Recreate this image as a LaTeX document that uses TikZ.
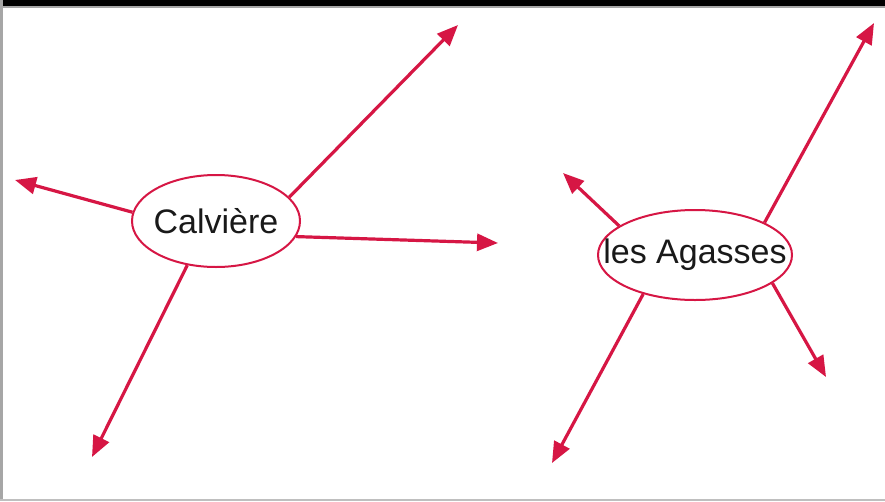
\documentclass[tikz,border=0pt]{standalone}
\usepackage{fontspec}
\setmainfont{Liberation Sans}
\usetikzlibrary{shapes.geometric,arrows.meta}
\definecolor{crim}{RGB}{214,22,68}
\definecolor{txt}{RGB}{25,25,25}
\tikzset{
  bubble/.style={ellipse, draw=crim, line width=2pt, fill=white, inner sep=0pt},
  lbl/.style={inner sep=0pt, text=txt, font=\fontsize{34}{36}\selectfont},
  arr/.style={draw=crim, line width=3.2pt, -{Triangle[length=21pt,width=17pt]}}
}
\begin{document}
\begin{tikzpicture}[x=1pt,y=-1pt]
\useasboundingbox (0,0) rectangle (885,501);
\fill[white] (0,0) rectangle (885,501);
\fill[black] (0,0) rectangle (885,6);
\fill[gray!70] (0,6) rectangle (885,7.5);
\fill[gray!70] (0,0) rectangle (2.5,501);
\fill[gray!50] (0,499) rectangle (885,501);

\node[bubble, minimum width=168pt, minimum height=92pt] (cal) at (216,221) {};
\node[lbl] (calt) at (cal.center) {Calvi\`ere};
\node[bubble, minimum width=194pt, minimum height=90pt] (aga) at (695,255) {};
\node[lbl] (agat) at (aga.center) {les Agasses};

\coordinate (c1) at (15,180);
\coordinate (c2) at (498,243);
\coordinate (c3) at (458,25);
\coordinate (c4) at (92,457);
\coordinate (a1) at (563,173);
\coordinate (a2) at (874,23);
\coordinate (a3) at (826,377);
\coordinate (a4) at (552,463);

\draw[arr] (cal.174.6) -- (c1);
\draw[arr] (cal.-11.7) -- (c2);
\draw[arr] (cal.18) -- (c3);
\draw[arr] (cal.237.5) -- (c4);
\draw[arr] (aga.159) -- (a1);
\draw[arr] (aga.25.9) -- (a2);
\draw[arr] (aga.-20) -- (a3);
\draw[arr] (aga.217) -- (a4);
\end{tikzpicture}
\end{document}
